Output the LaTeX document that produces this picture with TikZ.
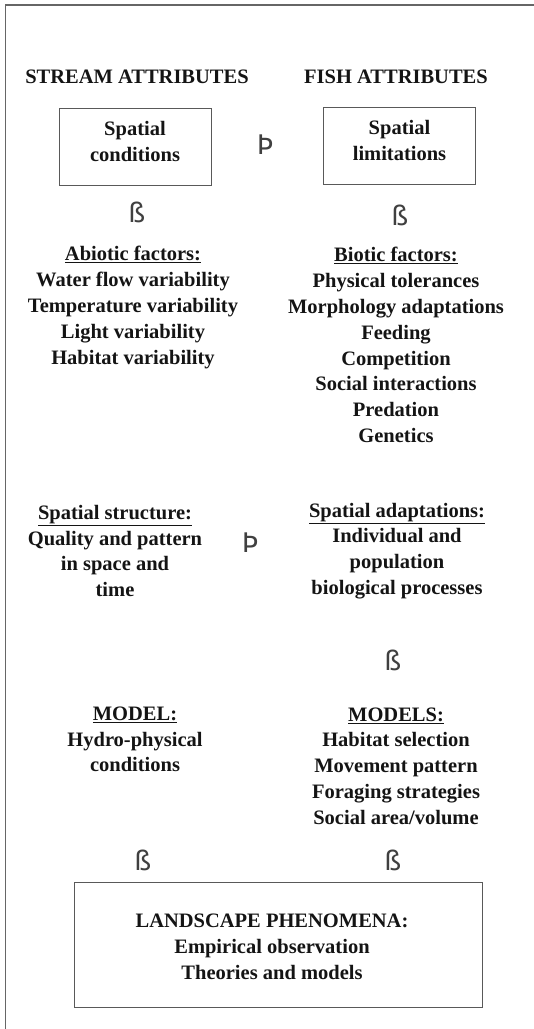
\documentclass[tikz,border=0pt]{standalone}
\usepackage{fontspec}
\setmainfont{Liberation Serif}
\newfontfamily\glyphfont{DejaVu Sans}
\begin{document}
\begin{tikzpicture}[x=1pt,y=-1pt,
  txt/.style={font=\bfseries\fontsize{20.5}{25.8}\selectfont, align=center, inner sep=0pt, text=black!92},
  boxed/.style={txt, draw=black!65, line width=1pt, minimum width=152pt, minimum height=77pt, text depth=10pt},
  sym/.style={font=\glyphfont\fontsize{27}{27}\selectfont, text=black!75, inner sep=0pt}]
\useasboundingbox (0,0) rectangle (534,1029);
\draw[black!60, line width=1.2pt] (5.5,1029) -- (5.5,5) -- (534,5);

% headers
\node[txt] (hs) at (137,77) {STREAM ATTRIBUTES};
\node[txt] (hf) at (396,77) {FISH ATTRIBUTES};

% top boxes
\node[boxed] (sc) at (135,146.5) {Spatial\\conditions};
\node[boxed] (sl) at (399.5,145.5) {Spatial\\limitations};
\node[sym] (a1) at (265,145) {Þ};

\node[sym] (b1) at (137,212) {ß};
\node[sym] (b2) at (400,215) {ß};

% factors
\node[txt] (abio) at (133,307.5) {\underline{Abiotic factors:}\\Water flow variability\\Temperature variability\\Light variability\\Habitat variability};
\node[txt] (bio) at (396,345) {\underline{Biotic factors:}\\Physical tolerances\\Morphology adaptations\\Feeding\\Competition\\Social interactions\\Predation\\Genetics};

% spatial
\node[txt] (sst) at (115,551) {\underline{Spatial structure:}\\Quality and pattern\\in space and\\time};
\node[txt] (sad) at (397,551) {\underline{Spatial adaptations:}\\Individual and\\population\\biological processes};
\node[sym] (a2) at (250,543) {Þ};

\node[sym] (b3) at (393,660) {ß};

% models
\node[txt] (mod) at (135,739.5) {\underline{MODEL:}\\Hydro-physical\\conditions};
\node[txt] (mods) at (396,766) {\underline{MODELS:}\\Habitat selection\\Movement pattern\\Foraging strategies\\Social area/volume};

\node[sym] (b4) at (143,860) {ß};
\node[sym] (b5) at (393,860) {ß};

% landscape
\node[draw=black!65, line width=1pt, minimum width=408pt, minimum height=125pt, inner sep=0pt] (land) at (278,944.5) {};
\node[txt] (landt) at (272,947) {LANDSCAPE PHENOMENA:\\Empirical observation\\Theories and models};
\end{tikzpicture}
\end{document}
